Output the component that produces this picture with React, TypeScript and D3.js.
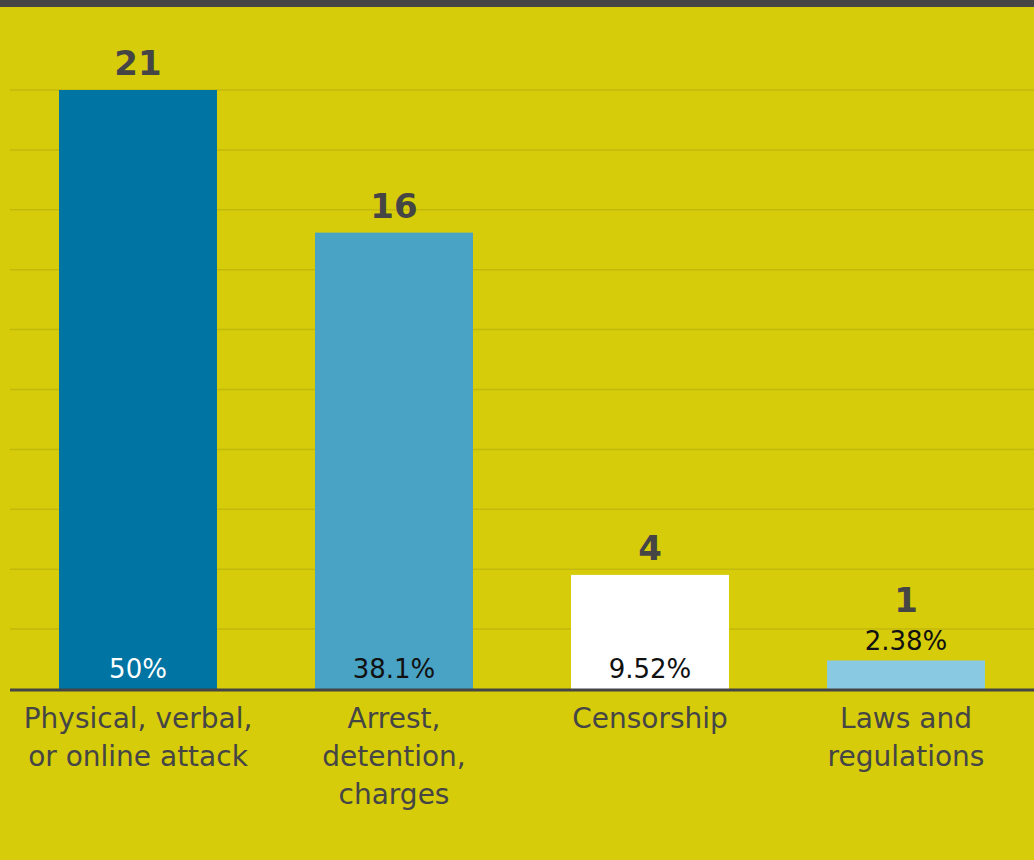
import * as d3 from "d3";
import { useEffect, useRef } from "react";

const categories = [
  ["Physical, verbal,", "or online attack"],
  ["Arrest,", "detention,", "charges"],
  ["Censorship"],
  ["Laws and", "regulations"],
];
const counts = [21, 16, 4, 1];
const barColors = ["#0074a2", "#49a3c5", "#ffffff", "#89c9e1"];
const pctColors = ["#ffffff", "#111111", "#111111", "#111111"];

const W = 1034;
const H = 860;
const FONT = "'DejaVu Sans', sans-serif";

export default function App() {
  const svgRef = useRef<SVGSVGElement>(null);

  useEffect(() => {
    const svg = d3.select(svgRef.current);
    svg.selectAll("*").remove();

    const total = d3.sum(counts);
    const fmt = d3.format(".3~r");

    const x = d3.scaleBand<number>()
      .domain(counts.map((_, i) => i))
      .range([10, W])
      .paddingInner(0.383)
      .paddingOuter(0.383 / 2);

    const y = d3.scaleLinear().domain([0, 21]).range([689, 90]);

    svg.append("rect").attr("width", W).attr("height", H).attr("fill", "#d6cc0a");
    svg.append("rect").attr("width", W).attr("height", 7).attr("fill", "#454545");

    // grid lines
    svg.selectAll(".grid")
      .data(d3.range(1, 11).map((k) => (21 * k) / 10))
      .enter()
      .append("line")
      .attr("x1", 10)
      .attr("x2", W)
      .attr("y1", (d) => y(d))
      .attr("y2", (d) => y(d))
      .attr("stroke", "#c3b90c")
      .attr("stroke-width", 1.5);

    svg.selectAll(".bar")
      .data(counts)
      .enter()
      .append("rect")
      .attr("x", (_, i) => x(i)!)
      .attr("y", (d) => y(d))
      .attr("width", x.bandwidth())
      .attr("height", (d) => y(0) - y(d))
      .attr("fill", (_, i) => barColors[i]);

    // baseline
    svg.append("line")
      .attr("x1", 10)
      .attr("x2", W)
      .attr("y1", y(0) + 1)
      .attr("y2", y(0) + 1)
      .attr("stroke", "#454545")
      .attr("stroke-width", 3);

    counts.forEach((v, i) => {
      const cx = x(i)! + x.bandwidth() / 2;
      const inside = y(0) - y(v) > 40;
      const pctY = inside ? y(0) - 11 : y(v) - 10;
      const cntY = inside ? y(v) - 15 : pctY - 38;

      svg.append("text")
        .attr("x", cx)
        .attr("y", pctY)
        .attr("text-anchor", "middle")
        .attr("font-family", FONT)
        .attr("font-size", 26)
        .attr("fill", pctColors[i])
        .text(fmt((v / total) * 100) + "%");

      svg.append("text")
        .attr("x", cx)
        .attr("y", cntY)
        .attr("text-anchor", "middle")
        .attr("font-family", FONT)
        .attr("font-weight", "bold")
        .attr("font-size", 34)
        .attr("fill", "#454545")
        .text(v);

      categories[i].forEach((line, j) => {
        svg.append("text")
          .attr("x", cx)
          .attr("y", 728 + j * 38)
          .attr("text-anchor", "middle")
          .attr("font-family", FONT)
          .attr("font-size", 28)
          .attr("fill", "#454545")
          .text(line);
      });
    });
  }, []);

  return (
    <div style={{ position: "absolute", left: 0, top: 0 }}>
      <svg ref={svgRef} width={W} height={H} style={{ display: "block" }}></svg>
    </div>
  );
}
